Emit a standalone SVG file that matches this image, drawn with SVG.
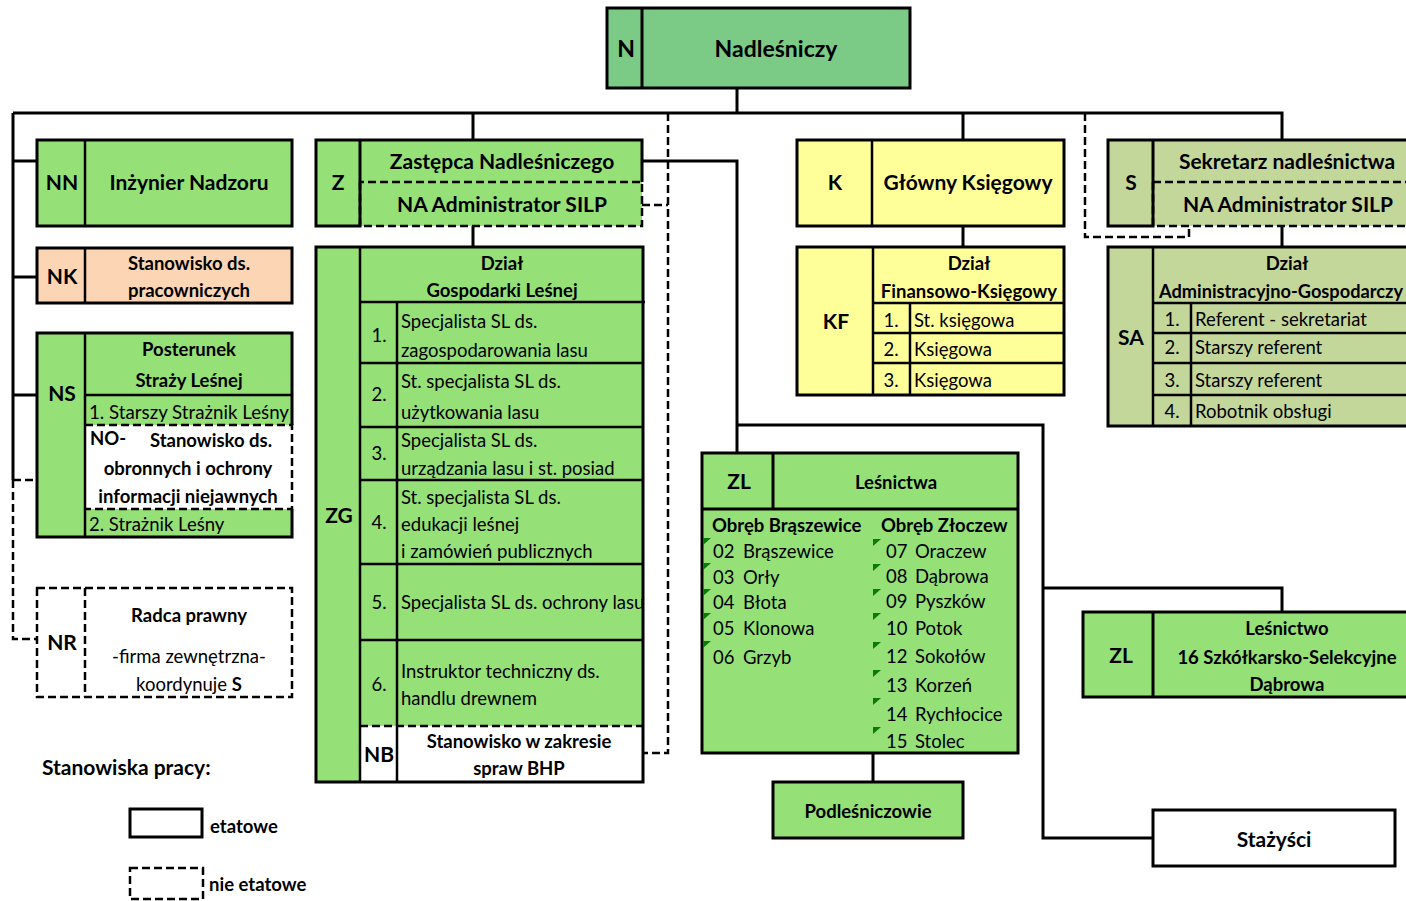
<svg xmlns="http://www.w3.org/2000/svg" width="1406" height="901" viewBox="0 0 1406 901">
<style>
.cn{fill:none;stroke:#000;stroke-width:3}
.il{fill:none;stroke:#000;stroke-width:2.5}
.ds{fill:none;stroke:#000;stroke-width:2.5;stroke-dasharray:8 4}
.ln{stroke:#000;stroke-width:3}
.dsb{stroke:#000;stroke-width:2.5;stroke-dasharray:8 4}
.g1{fill:#7BCB87}
.g2{fill:#95E077}
.pe{fill:#FCD5B4}
.ye{fill:#FFFF99}
.ol{fill:#C4D79B}
.wh{fill:#FFFFFF}
.tri{fill:#0A7A0A}
text{font-family:Lato,'Noto Sans',sans-serif;fill:#000}
.r{font-size:18.5px}
.b{font-size:18.5px;font-weight:bold}
.h{font-size:21px;font-weight:bold}
.big{font-size:23px;font-weight:bold}
.c{text-anchor:middle}
</style>
<defs>
<clipPath id="clip5"><rect x="398" y="565" width="244" height="74"/></clipPath>
</defs>

<g id="connectors">
<path class="cn" d="M737,88 V113 M13,113 H1282 V140 M473,113 V140 M963,113 V140 M13,113 V480 M13,161 H37 M13,277 H37 M13,395 H37 M473,226 V248 M963,226 V248 M1282,226 V248 M642,161 H737 V452 M737,425 H1043 V838 H1153 M1043,588 H1282 V612 M873,753 V782"/>
<path class="ds" d="M668,113 V753 H643 M642,205 H668 M1085,113 V237 H1189 V226 M13,480 V639 H37 M13,480 H85"/>
</g>

<g id="N">
<rect class="g1 ln" x="607" y="8" width="303" height="80"/>
<path class="cn" d="M642,8 V88"/>
<text class="big c" x="626" y="57">N</text>
<text class="big c" x="776" y="57">Nadleśniczy</text>
</g>

<g id="NN">
<rect class="g2 ln" x="37" y="140" width="255" height="86"/>
<path class="il" d="M85,140 V226"/>
<text class="h c" x="62" y="190">NN</text>
<text class="h c" x="189" y="190">Inżynier Nadzoru</text>
</g>

<g id="Z">
<rect class="g2" x="316" y="140" width="326" height="86"/>
<path class="cn" d="M642,182 V140 H316 V226 H360 V140"/>
<path class="ds" d="M360,182 V226 H642 V182 H360"/>
<text class="h c" x="338" y="190">Z</text>
<text class="h c" x="502" y="169">Zastępca Nadleśniczego</text>
<text class="h c" x="502" y="212">NA Administrator SILP</text>
</g>

<g id="K">
<rect class="ye ln" x="797" y="140" width="267" height="86"/>
<path class="il" d="M872,140 V226"/>
<text class="h c" x="835" y="190">K</text>
<text class="h c" x="968" y="190">Główny Księgowy</text>
</g>

<g id="S">
<rect class="ol" x="1108" y="140" width="310" height="86"/>
<path class="cn" d="M1418,140 H1108 V226 H1153 V140"/>
<path class="ds" d="M1153,182 H1418 M1153,182 V226 H1418"/>
<text class="h c" x="1131" y="190">S</text>
<text class="h c" x="1287" y="169">Sekretarz nadleśnictwa</text>
<text class="h c" x="1288" y="212">NA Administrator SILP</text>
</g>

<g id="NK">
<rect class="pe ln" x="37" y="248" width="255" height="55"/>
<path class="il" d="M85,248 V303"/>
<text class="h c" x="62" y="284">NK</text>
<text class="b c" x="189" y="270">Stanowisko ds.</text>
<text class="b c" x="189" y="297">pracowniczych</text>
</g>

<g id="NS">
<rect class="g2" x="37" y="333" width="255" height="204"/>
<rect class="wh" x="86" y="425" width="206" height="84"/>
<path class="cn" d="M292,425 V333 H37 V537 H292 V509"/>
<path class="il" d="M85,333 V537 M85,395 H292"/>
<path class="ds" d="M85,425 H292 V509 H85"/>
<text class="h c" x="62" y="401">NS</text>
<text class="b c" x="189" y="356">Posterunek</text>
<text class="b c" x="189" y="387">Straży Leśnej</text>
<text class="r" x="89" y="419" textLength="200" lengthAdjust="spacingAndGlyphs">1. Starszy Strażnik Leśny</text>
<text class="b" x="90" y="445">NO-</text>
<text class="b c" x="211" y="447">Stanowisko ds.</text>
<text class="b c" x="188" y="475">obronnych i ochrony</text>
<text class="b c" x="188" y="503">informacji niejawnych</text>
<text class="r" x="89" y="531">2. Strażnik Leśny</text>
</g>

<g id="ZG">
<rect class="g2" x="316" y="247" width="327" height="535"/>
<rect class="wh" x="361" y="726" width="282" height="56"/>
<path class="cn" d="M316,247 H643 V782 H316 Z"/>
<path class="il" d="M360,247 V782 M360,302 H645 M397,302 V782 M360,363 H643 M360,427 H643 M360,480 H643 M360,564 H643 M360,640 H643"/>
<path class="ds" d="M360,726 H643"/>
<text class="b c" x="502" y="270">Dział</text>
<text class="b c" x="502" y="297">Gospodarki Leśnej</text>
<text class="h c" x="339" y="523">ZG</text>
<text class="r c" x="379" y="342">1.</text>
<text class="r" x="401" y="328">Specjalista SL ds.</text>
<text class="r" x="401" y="357">zagospodarowania lasu</text>
<text class="r c" x="379" y="401">2.</text>
<text class="r" x="401" y="388">St. specjalista SL ds.</text>
<text class="r" x="401" y="419">użytkowania lasu</text>
<text class="r c" x="379" y="460">3.</text>
<text class="r" x="401" y="447">Specjalista SL ds.</text>
<text class="r" x="401" y="475">urządzania lasu i st. posiad</text>
<text class="r c" x="379" y="529">4.</text>
<text class="r" x="401" y="504">St. specjalista SL ds.</text>
<text class="r" x="401" y="531">edukacji leśnej</text>
<text class="r" x="401" y="558">i zamówień publicznych</text>
<text class="r c" x="379" y="609">5.</text>
<text class="r" x="401" y="609" clip-path="url(#clip5)">Specjalista SL ds. ochrony lasu</text>
<text class="r c" x="379" y="691">6.</text>
<text class="r" x="401" y="678">Instruktor techniczny ds.</text>
<text class="r" x="401" y="705">handlu drewnem</text>
<text class="h c" x="379" y="762">NB</text>
<text class="b c" x="519" y="748">Stanowisko w zakresie</text>
<text class="b c" x="519" y="775">spraw BHP</text>
</g>

<g id="KF">
<rect class="ye ln" x="797" y="247" width="267" height="148"/>
<path class="il" d="M873,247 V395 M873,303 H1064 M910,303 V395 M873,333 H1064 M873,363 H1064"/>
<text class="h c" x="836" y="329">KF</text>
<text class="b c" x="969" y="270">Dział</text>
<text class="b c" x="969" y="298">Finansowo-Księgowy</text>
<text class="r c" x="891" y="327">1.</text>
<text class="r" x="914" y="327">St. księgowa</text>
<text class="r c" x="891" y="356">2.</text>
<text class="r" x="914" y="356">Księgowa</text>
<text class="r c" x="891" y="387">3.</text>
<text class="r" x="914" y="387">Księgowa</text>
</g>

<g id="SA">
<rect class="ol ln" x="1108" y="247" width="310" height="179"/>
<path class="il" d="M1153,247 V426 M1153,303 H1418 M1191,303 V426 M1153,333 H1418 M1153,363 H1418 M1153,395 H1418"/>
<text class="h c" x="1131" y="345">SA</text>
<text class="b c" x="1287" y="270">Dział</text>
<text class="b" x="1159" y="298" textLength="244" lengthAdjust="spacingAndGlyphs">Administracyjno-Gospodarczy</text>
<text class="r c" x="1172" y="326">1.</text>
<text class="r" x="1195" y="326">Referent - sekretariat</text>
<text class="r c" x="1172" y="354">2.</text>
<text class="r" x="1195" y="354">Starszy referent</text>
<text class="r c" x="1172" y="387">3.</text>
<text class="r" x="1195" y="387">Starszy referent</text>
<text class="r c" x="1172" y="418">4.</text>
<text class="r" x="1195" y="418">Robotnik obsługi</text>
</g>

<g id="ZL">
<rect class="g2 ln" x="702" y="453" width="316" height="300"/>
<path class="cn" d="M773,453 V509 M702,509 H1018"/>
<text class="h c" x="739" y="489">ZL</text>
<text class="b c" x="896" y="489">Leśnictwa</text>
<text class="b" x="712" y="532">Obręb Brąszewice</text>
<text class="b" x="881" y="532">Obręb Złoczew</text>
<g class="tri">
<polygon points="703,538 711,538 703,545"/>
<polygon points="703,563 711,563 703,570"/>
<polygon points="703,589 711,589 703,596"/>
<polygon points="703,613 711,613 703,620"/>
<polygon points="703,641 711,641 703,648"/>
<polygon points="873,539 881,539 873,546"/>
<polygon points="873,564 881,564 873,571"/>
<polygon points="873,589 881,589 873,596"/>
<polygon points="873,613 881,613 873,620"/>
<polygon points="873,642 881,642 873,649"/>
<polygon points="873,670 881,670 873,677"/>
<polygon points="873,698 881,698 873,705"/>
<polygon points="873,727 881,727 873,734"/>
</g>
<text class="r" x="713" y="558">02</text><text class="r" x="743" y="558">Brąszewice</text>
<text class="r" x="713" y="584">03</text><text class="r" x="743" y="584">Orły</text>
<text class="r" x="713" y="609">04</text><text class="r" x="743" y="609">Błota</text>
<text class="r" x="713" y="635">05</text><text class="r" x="743" y="635">Klonowa</text>
<text class="r" x="713" y="664">06</text><text class="r" x="743" y="664">Grzyb</text>
<text class="r" x="886" y="558">07</text><text class="r" x="915" y="558">Oraczew</text>
<text class="r" x="886" y="583">08</text><text class="r" x="915" y="583">Dąbrowa</text>
<text class="r" x="886" y="608">09</text><text class="r" x="915" y="608">Pyszków</text>
<text class="r" x="886" y="635">10</text><text class="r" x="915" y="635">Potok</text>
<text class="r" x="886" y="663">12</text><text class="r" x="915" y="663">Sokołów</text>
<text class="r" x="886" y="692">13</text><text class="r" x="915" y="692">Korzeń</text>
<text class="r" x="886" y="721">14</text><text class="r" x="915" y="721">Rychłocice</text>
<text class="r" x="886" y="748">15</text><text class="r" x="915" y="748">Stolec</text>
</g>

<g id="Podlesniczowie">
<rect class="g2 ln" x="773" y="782" width="190" height="56"/>
<text class="b c" x="868" y="818">Podleśniczowie</text>
</g>

<g id="ZL16">
<rect class="g2 ln" x="1083" y="612" width="340" height="85"/>
<path class="cn" d="M1153,612 V697"/>
<text class="h c" x="1121" y="663">ZL</text>
<text class="b c" x="1287" y="635">Leśnictwo</text>
<text class="b c" x="1287" y="664">16 Szkółkarsko-Selekcyjne</text>
<text class="b c" x="1287" y="691">Dąbrowa</text>
</g>

<g id="Stazysci">
<rect class="wh ln" x="1153" y="810" width="242" height="56"/>
<text class="h c" x="1274" y="847">Stażyści</text>
</g>

<g id="NR">
<rect class="wh dsb" x="37" y="588" width="255" height="109"/>
<path class="ds" d="M85,588 V697"/>
<text class="h c" x="62" y="650">NR</text>
<text class="b c" x="189" y="622">Radca prawny</text>
<text class="r c" x="189" y="663">-firma zewnętrzna-</text>
<text class="r c" x="189" y="691">koordynuje <tspan font-weight="bold">S</tspan></text>
</g>

<g id="legend">
<text class="h" x="42" y="775">Stanowiska pracy:</text>
<rect class="wh ln" x="130" y="809" width="72" height="28"/>
<text class="b" x="210" y="833">etatowe</text>
<rect class="wh dsb" x="130" y="868" width="73" height="31"/>
<text class="b" x="209" y="891">nie etatowe</text>
</g>
</svg>
